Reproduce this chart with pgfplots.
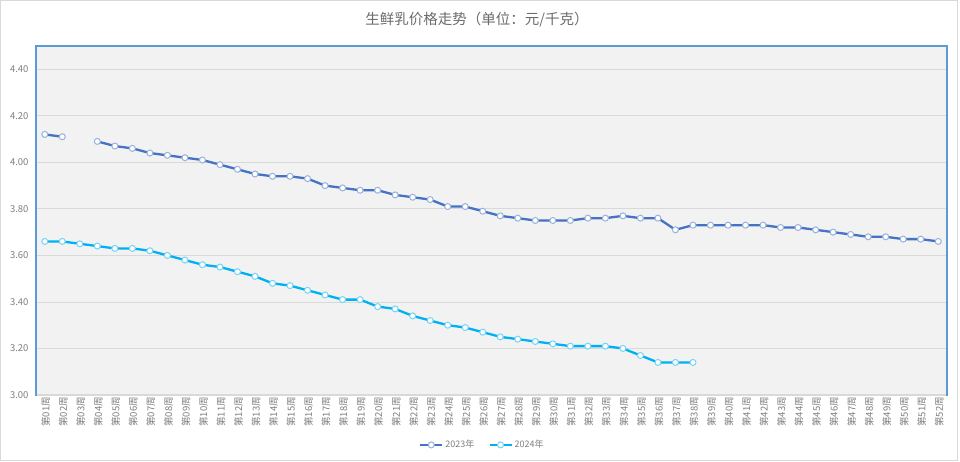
\documentclass[border=0pt]{standalone}
\usepackage{pgfplots}
\pgfplotsset{compat=1.18}
\usepackage{fontspec}
\setmainfont{Noto Sans CJK SC}

\definecolor{line23}{HTML}{4472C4}
\definecolor{line24}{HTML}{00B0F0}
\definecolor{frame}{HTML}{5B9BD5}
\definecolor{plotbg}{HTML}{F2F2F2}
\definecolor{gridc}{HTML}{D9D9D9}
\definecolor{txt}{HTML}{7F7F7F}

\begin{document}
\begin{tikzpicture}
\useasboundingbox (0,0) rectangle (960pt,461pt);
\fill[white] (0,0) rectangle (960pt,461pt);
\draw[gridc, line width=1pt] (0.5pt,0.5pt) rectangle (957pt,460.5pt);
\node[font=\fontsize{14.5}{16}\selectfont, text=txt!85!black] at (477pt,441pt) {生鲜乳价格走势（单位：元/千克）};

\begin{axis}[
    at={(36pt,66pt)}, anchor=south west,
    scale only axis, width=911pt, height=349pt,
    xmin=0.5, xmax=52.5, ymin=3, ymax=4.5,
    axis background/.style={fill=plotbg},
    axis line style={frame, line width=1.3pt},
    ytick={3,3.2,...,4.41},
    ymajorgrids, grid style={gridc, line width=0.8pt},
    major tick length=0pt,
    yticklabel style={font=\fontsize{9.5}{11}\selectfont, text=txt, xshift=-4pt, /pgf/number format/.cd, fixed, fixed zerofill, precision=2, assume math mode=true},
    xtick={1,...,52},
    xticklabel={\pgfmathparse{int(\tick)}第\ifnum\pgfmathresult<10 0\fi\pgfmathresult 周},
    xticklabel style={rotate=90, anchor=east, font=\fontsize{9.5}{11}\selectfont, text=txt, inner sep=2pt, yshift=-1pt},
    unbounded coords=jump,
    legend style={at={(0.49,-0.143)}, anchor=center, draw=none, fill=none, legend columns=2,
        font=\fontsize{9}{10}\selectfont, text=txt,
        /tikz/every even column/.append style={column sep=12pt}},
    legend cell align=left,
    legend image code/.code={
        \draw[#1, mark=none] (0pt,0pt) -- (22pt,0pt);
        \draw[#1, only marks] plot coordinates {(11pt,0pt)};
    },
]
\addplot[line23, line width=2.3pt, mark=*, mark size=3pt, mark options={fill=white, draw=line23!55!white, line width=1pt}]
coordinates {
(1,4.12) (2,4.11) (3,nan) (4,4.09) (5,4.07) (6,4.06) (7,4.04) (8,4.03) (9,4.02) (10,4.01)
(11,3.99) (12,3.97) (13,3.95) (14,3.94) (15,3.94) (16,3.93) (17,3.90) (18,3.89) (19,3.88) (20,3.88)
(21,3.86) (22,3.85) (23,3.84) (24,3.81) (25,3.81) (26,3.79) (27,3.77) (28,3.76) (29,3.75) (30,3.75)
(31,3.75) (32,3.76) (33,3.76) (34,3.77) (35,3.76) (36,3.76) (37,3.71) (38,3.73) (39,3.73) (40,3.73)
(41,3.73) (42,3.73) (43,3.72) (44,3.72) (45,3.71) (46,3.70) (47,3.69) (48,3.68) (49,3.68) (50,3.67)
(51,3.67) (52,3.66)
};
\addlegendentry{2023年}
\addplot[line24, line width=2.3pt, mark=*, mark size=3pt, mark options={fill=white, draw=line24!55!white, line width=1pt}]
coordinates {
(1,3.66) (2,3.66) (3,3.65) (4,3.64) (5,3.63) (6,3.63) (7,3.62) (8,3.60) (9,3.58) (10,3.56)
(11,3.55) (12,3.53) (13,3.51) (14,3.48) (15,3.47) (16,3.45) (17,3.43) (18,3.41) (19,3.41) (20,3.38)
(21,3.37) (22,3.34) (23,3.32) (24,3.30) (25,3.29) (26,3.27) (27,3.25) (28,3.24) (29,3.23) (30,3.22)
(31,3.21) (32,3.21) (33,3.21) (34,3.20) (35,3.17) (36,3.14) (37,3.14) (38,3.14)
};
\addlegendentry{2024年}
\end{axis}
\draw[gridc, line width=1.3pt] (36.6pt,66pt) -- (946.4pt,66pt);
\end{tikzpicture}
\end{document}
